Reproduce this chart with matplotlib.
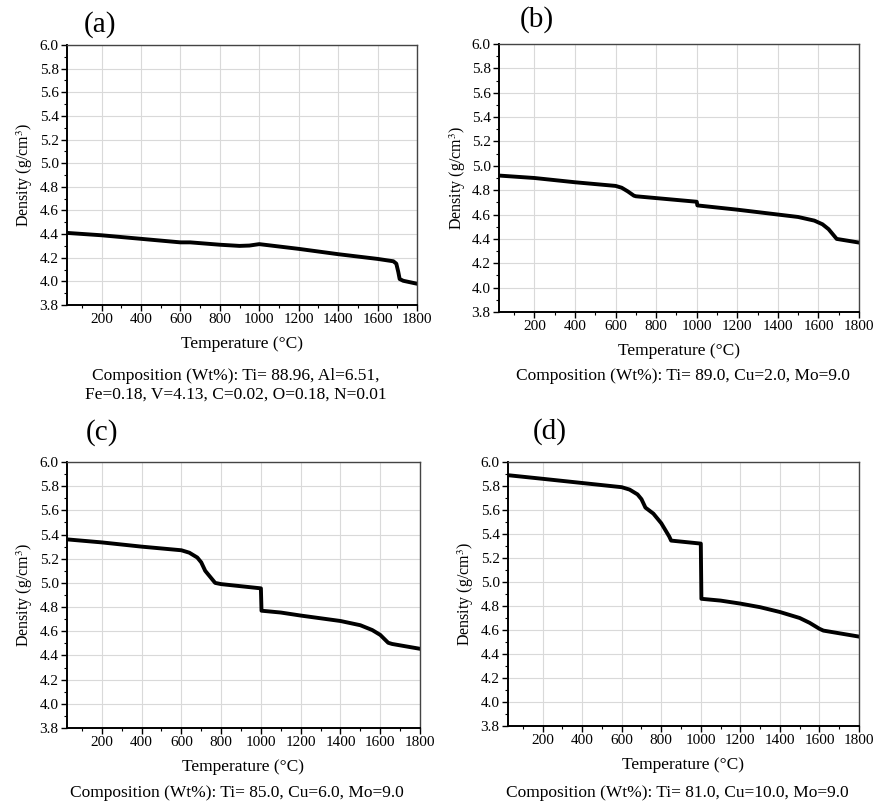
import numpy as np
import matplotlib
matplotlib.use("Agg")
import matplotlib.pyplot as plt
from matplotlib.ticker import MultipleLocator, FormatStrFormatter

plt.rcParams["font.family"] = ["Liberation Serif", "DejaVu Serif"]
plt.rcParams["mathtext.fontset"] = "stix"

# (a) Ti-6Al-4V
temp_a = [25, 200, 400, 600, 650, 800, 900, 950, 1000, 1050, 1200, 1400, 1600, 1680, 1695, 1705, 1712, 1730, 1800]
dens_a = [4.41, 4.39, 4.36, 4.33, 4.33, 4.31, 4.30, 4.303, 4.315, 4.305, 4.275, 4.23, 4.19, 4.17, 4.15, 4.08, 4.02, 4.005, 3.98]

# (b) Ti-2Cu-9Mo
temp_b = [25, 200, 400, 600, 630, 660, 690, 700, 800, 1000, 1003, 1200, 1400, 1500, 1580, 1620, 1650, 1670, 1690, 1800]
dens_b = [4.92, 4.90, 4.865, 4.835, 4.82, 4.79, 4.755, 4.75, 4.735, 4.705, 4.675, 4.64, 4.60, 4.58, 4.55, 4.52, 4.48, 4.44, 4.40, 4.37]

# (c) Ti-6Cu-9Mo
temp_c = [25, 200, 400, 600, 640, 680, 700, 720, 740, 770, 800, 1000, 1003, 1100, 1200, 1400, 1500, 1560, 1600, 1640, 1660, 1800]
dens_c = [5.36, 5.335, 5.30, 5.27, 5.25, 5.21, 5.17, 5.10, 5.06, 5.00, 4.99, 4.955, 4.77, 4.755, 4.73, 4.685, 4.65, 4.61, 4.57, 4.505, 4.495, 4.455]

# (d) Ti-10Cu-9Mo
temp_d = [25, 200, 400, 600, 640, 680, 700, 720, 760, 800, 840, 850, 1000, 1003, 1100, 1200, 1300, 1400, 1500, 1550, 1600, 1620, 1800]
dens_d = [5.89, 5.86, 5.825, 5.79, 5.77, 5.73, 5.69, 5.62, 5.57, 5.49, 5.38, 5.345, 5.32, 4.86, 4.845, 4.82, 4.79, 4.75, 4.70, 4.66, 4.61, 4.595, 4.545]

panels = ["(a)", "(b)", "(c)", "(d)"]
compositions = [
    "Composition (Wt%): Ti= 88.96, Al=6.51,\nFe=0.18, V=4.13, C=0.02, O=0.18, N=0.01",
    "Composition (Wt%): Ti= 89.0, Cu=2.0, Mo=9.0",
    "Composition (Wt%): Ti= 85.0, Cu=6.0, Mo=9.0",
    "Composition (Wt%): Ti= 81.0, Cu=10.0, Mo=9.0",
]
series = [(temp_a, dens_a), (temp_b, dens_b), (temp_c, dens_c), (temp_d, dens_d)]

W, H = 878, 807
# axes boxes in pixels: left, right, top, bottom
boxes = [(67, 417, 45, 305), (499, 859, 44, 312), (67, 420, 462, 728), (508, 859, 462, 726)]
label_pos = [(100, 25), (537, 20), (102, 433), (550, 432)]
comp_pos = [(236, 385), (683, 376), (237, 793), (677, 793)]

fig = plt.figure(figsize=(W / 100, H / 100), dpi=100)

for i, (x, y) in enumerate(series):
    l, r, t, b = boxes[i]
    ax = fig.add_axes([l / W, 1 - b / H, (r - l) / W, (b - t) / H])
    ax.plot(x, y, color="black", linewidth=2.8, solid_joinstyle="round")
    ax.set_xlim(25, 1800)
    ax.set_ylim(3.8, 6.0)
    ax.set_xticks(np.arange(200, 1801, 200))
    ax.xaxis.set_minor_locator(MultipleLocator(100))
    ax.yaxis.set_major_locator(MultipleLocator(0.2))
    ax.yaxis.set_minor_locator(MultipleLocator(0.1))
    ax.yaxis.set_major_formatter(FormatStrFormatter("%.1f"))
    ax.grid(True, which="major", color="#d9d9d9", linewidth=0.8)
    ax.tick_params(which="major", direction="out", length=4, width=1, labelsize=11, pad=2)
    ax.tick_params(which="minor", direction="out", length=2, width=0.8)
    for s in ["left", "bottom"]:
        ax.spines[s].set_linewidth(1.4)
    for s in ["top", "right"]:
        ax.spines[s].set_linewidth(1.0)
        ax.spines[s].set_color("#444444")
    ax.set_xlabel("Temperature (°C)", fontsize=12.5, labelpad=7)
    ax.set_ylabel("Density (g/cm$^3$)", fontsize=11.5, labelpad=3)
    fig.text(label_pos[i][0] / W, 1 - label_pos[i][1] / H, panels[i], fontsize=21,
             ha="center", va="center")
    fig.text(comp_pos[i][0] / W, 1 - comp_pos[i][1] / H, compositions[i], fontsize=12.5,
             ha="center", va="center", linespacing=1.25)

fig.savefig("out.png", dpi=100)
